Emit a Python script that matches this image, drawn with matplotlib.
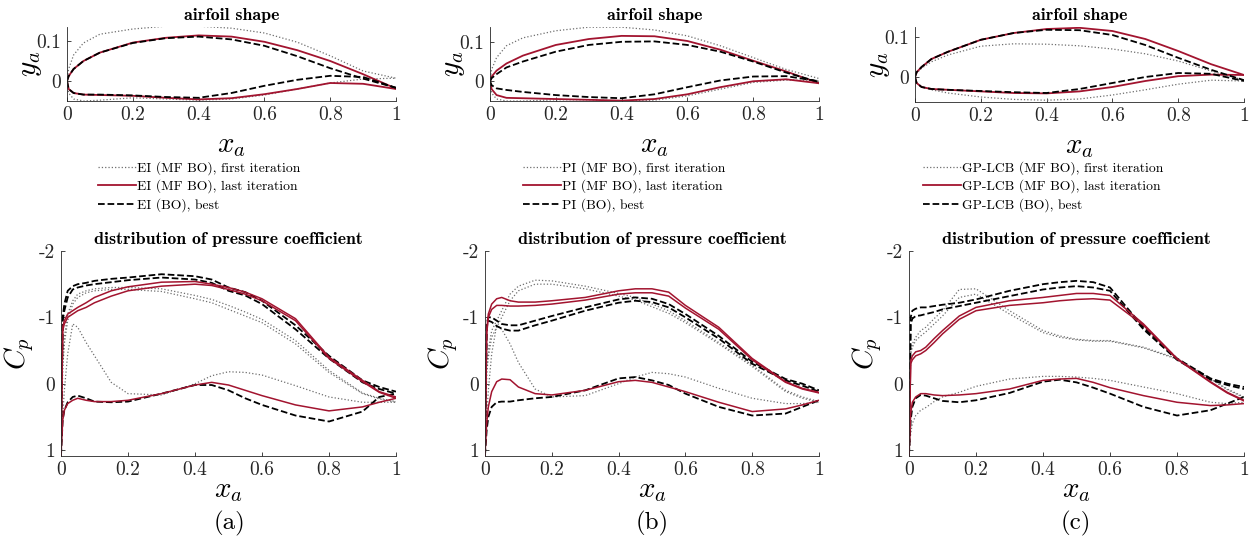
import matplotlib
matplotlib.use('Agg')
import matplotlib.pyplot as plt

plt.rcParams['font.family'] = 'serif'
plt.rcParams['font.serif'] = ['cmr10']
plt.rcParams['mathtext.fontset'] = 'cm'
plt.rcParams['axes.unicode_minus'] = False

# ---- airfoil shapes (x along chord, upper / lower surface) ----
X_AF = [0, 0.005, 0.02, 0.05, 0.1, 0.2, 0.3, 0.4, 0.5, 0.6, 0.7, 0.8, 0.9, 1.0]

AF_A_FIRST_UP = [0, 0.03, 0.065, 0.095, 0.117, 0.13, 0.137, 0.137, 0.132, 0.12, 0.097, 0.063, 0.025, 0.007]
AF_A_FIRST_LO = [0, -0.03, -0.045, -0.05, -0.048, -0.042, -0.045, -0.048, -0.045, -0.035, -0.02, -0.005, 0.005, 0.007]
AF_A_LAST_UP = [0, 0.012, 0.03, 0.05, 0.071, 0.096, 0.108, 0.114, 0.111, 0.098, 0.077, 0.05, 0.017, -0.019]
AF_A_LAST_LO = [0, -0.02, -0.03, -0.034, -0.035, -0.037, -0.042, -0.046, -0.043, -0.033, -0.02, -0.005, -0.007, -0.02]
AF_A_BEST_UP = [0, 0.012, 0.03, 0.05, 0.071, 0.095, 0.107, 0.111, 0.104, 0.088, 0.062, 0.032, 0.006, -0.017]
AF_A_BEST_LO = [0, -0.02, -0.03, -0.034, -0.034, -0.036, -0.04, -0.042, -0.03, -0.012, 0.003, 0.013, 0.01, -0.017]

AF_B_FIRST_UP = [0, 0.03, 0.06, 0.09, 0.11, 0.128, 0.137, 0.137, 0.13, 0.115, 0.09, 0.06, 0.03, 0.007]
AF_B_FIRST_LO = [0, -0.03, -0.045, -0.05, -0.05, -0.047, -0.047, -0.05, -0.048, -0.037, -0.02, -0.003, 0.003, 0.002]
AF_B_LAST_UP = [0, 0.012, 0.027, 0.045, 0.065, 0.092, 0.107, 0.115, 0.114, 0.102, 0.08, 0.052, 0.025, -0.005]
AF_B_LAST_LO = [0, -0.02, -0.035, -0.042, -0.043, -0.045, -0.047, -0.049, -0.045, -0.033, -0.015, 0.0, 0.005, -0.005]
AF_B_BEST_UP = [0, 0.008, 0.018, 0.035, 0.05, 0.075, 0.092, 0.1, 0.101, 0.092, 0.075, 0.05, 0.022, -0.002]
AF_B_BEST_LO = [0, -0.01, -0.018, -0.022, -0.027, -0.035, -0.04, -0.043, -0.033, -0.015, 0.002, 0.012, 0.013, 0.0]

AF_C_FIRST_UP = [0, 0.01, 0.022, 0.038, 0.055, 0.077, 0.083, 0.082, 0.078, 0.07, 0.058, 0.04, 0.015, -0.008]
AF_C_FIRST_LO = [0, -0.015, -0.025, -0.032, -0.04, -0.05, -0.056, -0.058, -0.055, -0.045, -0.032, -0.018, -0.008, -0.01]
AF_C_LAST_UP = [0, 0.012, 0.025, 0.045, 0.063, 0.093, 0.11, 0.12, 0.123, 0.115, 0.095, 0.065, 0.032, 0.005]
AF_C_LAST_LO = [0, -0.015, -0.025, -0.03, -0.032, -0.036, -0.04, -0.041, -0.036, -0.025, -0.01, 0.002, 0.006, 0.005]
AF_C_BEST_UP = [0, 0.012, 0.025, 0.045, 0.063, 0.093, 0.11, 0.118, 0.117, 0.105, 0.08, 0.048, 0.018, -0.008]
AF_C_BEST_LO = [0, -0.015, -0.025, -0.03, -0.032, -0.035, -0.038, -0.04, -0.03, -0.015, 0.0, 0.01, 0.008, -0.01]

# ---- pressure coefficient (two suction-side traces + pressure side) ----
X_CP = [0, 0.005, 0.01, 0.02, 0.035, 0.05, 0.075, 0.1, 0.15, 0.2, 0.3, 0.4, 0.45, 0.5, 0.55, 0.6, 0.7, 0.8, 0.9, 0.95, 1.0]

CP_A_FIRST_UP = [1.08, -0.3, -0.7, -1.05, -1.25, -1.35, -1.4, -1.43, -1.45, -1.45, -1.43, -1.33, -1.27, -1.18, -1.08, -0.97, -0.65, -0.2, 0.14, 0.22, 0.27]
CP_A_FIRST_UP2 = [1.08, -0.2, -0.6, -0.95, -1.2, -1.3, -1.37, -1.4, -1.42, -1.42, -1.39, -1.28, -1.22, -1.12, -1.02, -0.92, -0.6, -0.17, 0.15, 0.23, 0.28]
CP_A_FIRST_LO = [1.08, 0.5, 0.1, -0.45, -0.9, -0.85, -0.62, -0.42, -0.02, 0.15, 0.17, 0.0, -0.12, -0.18, -0.17, -0.13, 0.03, 0.2, 0.28, 0.28, 0.28]
CP_A_LAST_UP = [1.08, -0.8, -0.9, -1.0, -1.05, -1.1, -1.15, -1.22, -1.32, -1.4, -1.47, -1.5, -1.48, -1.42, -1.35, -1.25, -0.95, -0.38, -0.03, 0.13, 0.22]
CP_A_LAST_UP2 = [1.08, -0.85, -0.95, -1.05, -1.1, -1.15, -1.22, -1.3, -1.4, -1.46, -1.53, -1.54, -1.5, -1.45, -1.38, -1.28, -0.98, -0.4, -0.05, 0.12, 0.2]
CP_A_LAST_LO = [1.08, 0.55, 0.4, 0.3, 0.25, 0.22, 0.25, 0.27, 0.27, 0.25, 0.15, 0.02, -0.02, 0.02, 0.1, 0.18, 0.32, 0.41, 0.35, 0.28, 0.22]
CP_A_BEST_UP = [1.08, -1.0, -1.2, -1.4, -1.47, -1.5, -1.52, -1.55, -1.58, -1.6, -1.65, -1.62, -1.57, -1.45, -1.38, -1.25, -0.88, -0.42, -0.05, 0.05, 0.12]
CP_A_BEST_UP2 = [1.08, -0.95, -1.1, -1.3, -1.42, -1.45, -1.48, -1.5, -1.53, -1.56, -1.6, -1.57, -1.52, -1.4, -1.33, -1.2, -0.82, -0.38, -0.02, 0.08, 0.15]
CP_A_BEST_LO = [1.08, 0.55, 0.4, 0.28, 0.2, 0.18, 0.22, 0.27, 0.28, 0.27, 0.15, 0.02, 0.02, 0.1, 0.22, 0.32, 0.48, 0.57, 0.42, 0.2, 0.15]

CP_B_FIRST_UP = [1.08, -0.2, -0.5, -0.8, -0.95, -1.1, -1.35, -1.47, -1.56, -1.55, -1.47, -1.36, -1.3, -1.2, -1.1, -0.95, -0.62, -0.28, 0.1, 0.2, 0.27]
CP_B_FIRST_UP2 = [1.08, -0.15, -0.4, -0.7, -0.85, -1.0, -1.25, -1.4, -1.5, -1.5, -1.43, -1.32, -1.26, -1.16, -1.06, -0.92, -0.6, -0.26, 0.12, 0.22, 0.28]
CP_B_FIRST_LO = [1.08, 0.5, 0.1, -0.45, -0.88, -0.82, -0.6, -0.32, 0.08, 0.2, 0.18, 0.0, -0.1, -0.17, -0.15, -0.1, 0.07, 0.22, 0.3, 0.3, 0.28]
CP_B_LAST_UP = [1.08, -0.8, -1.05, -1.2, -1.28, -1.3, -1.25, -1.23, -1.23, -1.25, -1.3, -1.4, -1.43, -1.43, -1.38, -1.18, -0.85, -0.38, -0.03, 0.07, 0.13]
CP_B_LAST_UP2 = [1.08, -0.75, -1.0, -1.12, -1.18, -1.18, -1.17, -1.17, -1.18, -1.2, -1.26, -1.35, -1.37, -1.37, -1.32, -1.14, -0.82, -0.36, -0.02, 0.08, 0.14]
CP_B_LAST_LO = [1.08, 0.6, 0.35, 0.12, -0.03, -0.07, -0.06, 0.05, 0.15, 0.17, 0.1, -0.03, -0.05, -0.02, 0.05, 0.12, 0.28, 0.42, 0.38, 0.32, 0.25]
CP_B_BEST_UP = [1.08, -0.9, -1.0, -1.0, -0.95, -0.9, -0.88, -0.88, -0.95, -1.02, -1.15, -1.27, -1.3, -1.28, -1.2, -1.05, -0.72, -0.33, -0.07, 0.0, 0.1]
CP_B_BEST_UP2 = [1.08, -0.85, -0.95, -0.93, -0.87, -0.83, -0.8, -0.8, -0.88, -0.95, -1.1, -1.22, -1.25, -1.23, -1.15, -1.0, -0.68, -0.3, -0.05, 0.03, 0.12]
CP_B_BEST_LO = [1.08, 0.7, 0.5, 0.35, 0.28, 0.27, 0.27, 0.25, 0.22, 0.2, 0.1, -0.08, -0.1, -0.05, 0.02, 0.15, 0.35, 0.48, 0.45, 0.35, 0.25]

CP_C_FIRST_UP = [1.08, -0.5, -0.6, -0.7, -0.8, -0.85, -0.98, -1.1, -1.42, -1.43, -1.1, -0.8, -0.72, -0.67, -0.65, -0.65, -0.55, -0.38, -0.08, 0.08, 0.2]
CP_C_FIRST_UP2 = [1.08, -0.45, -0.55, -0.65, -0.72, -0.78, -0.9, -1.02, -1.3, -1.35, -1.05, -0.77, -0.7, -0.66, -0.64, -0.64, -0.54, -0.37, -0.07, 0.09, 0.21]
CP_C_FIRST_LO = [1.08, 0.75, 0.6, 0.48, 0.4, 0.36, 0.27, 0.2, 0.13, 0.04, -0.07, -0.11, -0.11, -0.1, -0.08, -0.05, 0.05, 0.15, 0.28, 0.3, 0.28]
CP_C_LAST_UP = [1.08, -0.35, -0.42, -0.48, -0.5, -0.55, -0.68, -0.8, -1.02, -1.15, -1.25, -1.3, -1.33, -1.36, -1.36, -1.33, -0.9, -0.38, -0.03, 0.13, 0.25]
CP_C_LAST_UP2 = [1.08, -0.3, -0.36, -0.42, -0.45, -0.5, -0.62, -0.75, -0.97, -1.1, -1.18, -1.22, -1.25, -1.27, -1.28, -1.26, -0.88, -0.37, -0.02, 0.14, 0.26]
CP_C_LAST_LO = [1.08, 0.45, 0.28, 0.2, 0.15, 0.15, 0.17, 0.18, 0.17, 0.15, 0.08, -0.05, -0.07, -0.08, -0.02, 0.06, 0.18, 0.28, 0.33, 0.32, 0.3]
CP_C_BEST_UP = [1.08, -1.0, -1.1, -1.13, -1.15, -1.15, -1.17, -1.19, -1.22, -1.27, -1.4, -1.5, -1.53, -1.55, -1.53, -1.45, -0.85, -0.38, -0.08, 0.0, 0.05]
CP_C_BEST_UP2 = [1.08, -0.9, -0.98, -1.02, -1.03, -1.05, -1.08, -1.12, -1.17, -1.22, -1.32, -1.42, -1.45, -1.47, -1.45, -1.4, -0.82, -0.36, -0.06, 0.02, 0.08]
CP_C_BEST_LO = [1.08, 0.55, 0.35, 0.22, 0.17, 0.18, 0.22, 0.26, 0.28, 0.25, 0.14, -0.03, -0.06, -0.02, 0.06, 0.15, 0.35, 0.48, 0.4, 0.3, 0.2]

METHODS = ['EI', 'PI', 'GP-LCB']
TAGS = ['(a)', '(b)', '(c)']
X_TICKS = [0, 0.2, 0.4, 0.6, 0.8, 1]
X_TICK_LABELS = ['0', '0.2', '0.4', '0.6', '0.8', '1']
AF_Y_TICKS = [0, 0.1]
AF_Y_TICK_LABELS = ['0', '0.1']
CP_Y_TICKS = [-2, -1, 0, 1]
CP_Y_TICK_LABELS = ['-2', '-1', '0', '1']

RED = '#A2142F'
GRAY = '#6e6e6e'
AXC = '#262626'

W, H = 1251, 542
fig = plt.figure(figsize=(W / 100, H / 100), dpi=100)


def add_px_axes(left, top, right, bottom):
    return fig.add_axes([left / W, 1 - bottom / H, (right - left) / W, (bottom - top) / H])


def style(ax):
    for s in ('top', 'right'):
        ax.spines[s].set_visible(False)
    for s in ('left', 'bottom'):
        ax.spines[s].set_color(AXC)
        ax.spines[s].set_linewidth(0.6)
    ax.tick_params(direction='in', length=3, width=0.6, colors=AXC, labelsize=14, pad=4)
    ax.set_xticks(X_TICKS, X_TICK_LABELS)
    ax.set_xlim(0, 1)


af_data = [
    (AF_A_FIRST_UP, AF_A_FIRST_LO, AF_A_LAST_UP, AF_A_LAST_LO, AF_A_BEST_UP, AF_A_BEST_LO),
    (AF_B_FIRST_UP, AF_B_FIRST_LO, AF_B_LAST_UP, AF_B_LAST_LO, AF_B_BEST_UP, AF_B_BEST_LO),
    (AF_C_FIRST_UP, AF_C_FIRST_LO, AF_C_LAST_UP, AF_C_LAST_LO, AF_C_BEST_UP, AF_C_BEST_LO),
]
cp_data = [
    ((CP_A_FIRST_UP, CP_A_FIRST_UP2, CP_A_FIRST_LO), (CP_A_LAST_UP, CP_A_LAST_UP2, CP_A_LAST_LO),
     (CP_A_BEST_UP, CP_A_BEST_UP2, CP_A_BEST_LO)),
    ((CP_B_FIRST_UP, CP_B_FIRST_UP2, CP_B_FIRST_LO), (CP_B_LAST_UP, CP_B_LAST_UP2, CP_B_LAST_LO),
     (CP_B_BEST_UP, CP_B_BEST_UP2, CP_B_BEST_LO)),
    ((CP_C_FIRST_UP, CP_C_FIRST_UP2, CP_C_FIRST_LO), (CP_C_LAST_UP, CP_C_LAST_UP2, CP_C_LAST_LO),
     (CP_C_BEST_UP, CP_C_BEST_UP2, CP_C_BEST_LO)),
]

# pixel boxes of the reference layout
top_boxes = [(67, 27, 396, 101), (490, 27, 819, 101), (915, 27, 1244, 102)]
top_ylims = [(-0.05, 0.135), (-0.05, 0.1375), (-0.0625, 0.125)]
bot_boxes = [(61, 251, 396, 456), (485, 251, 819, 456), (909, 251, 1244, 456)]
leg_x = [98, 523, 923]
tag_x = [230, 652, 1076]

first_kw = dict(color=GRAY, ls=':', lw=0.9)
last_kw = dict(color=RED, ls='-', lw=1.3)
best_kw = dict(color='black', ls='--', lw=1.3)

for i in range(3):
    ax = add_px_axes(*top_boxes[i])
    style(ax)
    fu, fl, lu, ll, bu, bl = af_data[i]
    h1, = ax.plot(X_AF, fu, **first_kw)
    ax.plot(X_AF, fl, **first_kw)
    h2, = ax.plot(X_AF, lu, **last_kw)
    ax.plot(X_AF, ll, **last_kw)
    h3, = ax.plot(X_AF, bu, **best_kw)
    ax.plot(X_AF, bl, **best_kw)
    ax.set_ylim(*top_ylims[i])
    ax.set_yticks(AF_Y_TICKS, AF_Y_TICK_LABELS)
    ax.set_title('airfoil shape', fontfamily='cmb10', fontsize=12.8, pad=5)
    ax.set_xlabel('$x_a$', fontsize=21, labelpad=6)
    ax.set_ylabel('$y_a$', fontsize=21)
    ax.yaxis.set_label_coords(-0.07, 0.5)
    m = METHODS[i]
    labels = [m + ' (MF BO), first iteration', m + ' (MF BO), last iteration', m + ' (BO), best']
    fig.legend([h1, h2, h3], labels, loc='upper left',
               bbox_to_anchor=(leg_x[i] / W, 1 - 161 / H), frameon=False,
               fontsize=9.8, handlelength=2.8, handletextpad=0.1,
               labelspacing=0.36, borderpad=0, borderaxespad=0)

    ax = add_px_axes(*bot_boxes[i])
    style(ax)
    first, last, best = cp_data[i]
    for series, kw in ((first, first_kw), (best, best_kw), (last, dict(last_kw, lw=1.1))):
        for ys in series:
            ax.plot(X_CP, ys, **kw)
    ax.set_ylim(1.09, -2)
    ax.set_yticks(CP_Y_TICKS, CP_Y_TICK_LABELS)
    ax.set_title('distribution of pressure coefficient', fontfamily='cmb10', fontsize=12.8, pad=5)
    ax.set_xlabel('$x_a$', fontsize=21, labelpad=-1)
    ax.set_ylabel('$C_p$', fontsize=21)
    ax.yaxis.set_label_coords(-0.075, 0.5)
    fig.text(tag_x[i] / W, 1 - 523 / H, TAGS[i], fontsize=18, ha='center', va='center')

fig.savefig('out.png', dpi=100)
